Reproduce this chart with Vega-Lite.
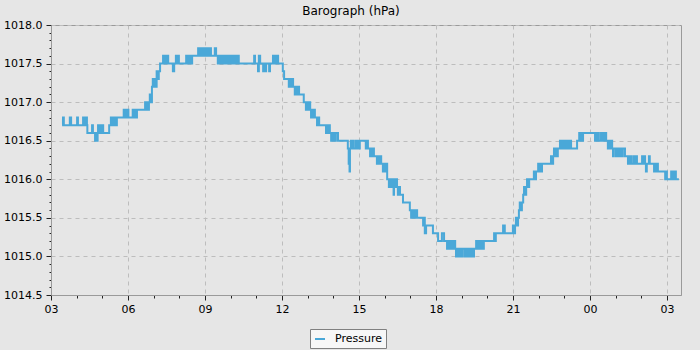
{
  "$schema": "https://vega.github.io/schema/vega-lite/v6.json",
  "width": 630,
  "height": 270,
  "padding": {"left": 3, "top": 5, "right": 20, "bottom": 2},
  "background": "#e6e6e6",
  "title": {"text": "Barograph (hPa)", "font": "DejaVu Sans", "fontSize": 12, "fontWeight": "normal", "color": "#000000", "anchor": "middle", "dx": -15, "offset": 1},
  "config": {
    "font": "DejaVu Sans",
    "view": {"fill": "#e6e6e6", "stroke": "#9a9a9a", "strokeWidth": 1}
  },
  "data": {"format": {"parse": {"t": "utc:'%Y-%m-%dT%H:%M'"}}, "values": [
    {"t": "2024-05-01T03:26", "p": 1016.7},
    {"t": "2024-05-01T03:28", "p": 1016.8},
    {"t": "2024-05-01T03:30", "p": 1016.7},
    {"t": "2024-05-01T03:44", "p": 1016.8},
    {"t": "2024-05-01T03:47", "p": 1016.7},
    {"t": "2024-05-01T04:01", "p": 1016.8},
    {"t": "2024-05-01T04:03", "p": 1016.7},
    {"t": "2024-05-01T04:15", "p": 1016.8},
    {"t": "2024-05-01T04:17", "p": 1016.7},
    {"t": "2024-05-01T04:20", "p": 1016.8},
    {"t": "2024-05-01T04:22", "p": 1016.7},
    {"t": "2024-05-01T04:23", "p": 1016.8},
    {"t": "2024-05-01T04:24", "p": 1016.7},
    {"t": "2024-05-01T04:25", "p": 1016.6},
    {"t": "2024-05-01T04:36", "p": 1016.7},
    {"t": "2024-05-01T04:38", "p": 1016.6},
    {"t": "2024-05-01T04:43", "p": 1016.5},
    {"t": "2024-05-01T04:45", "p": 1016.6},
    {"t": "2024-05-01T04:46", "p": 1016.5},
    {"t": "2024-05-01T04:49", "p": 1016.6},
    {"t": "2024-05-01T04:50", "p": 1016.7},
    {"t": "2024-05-01T04:52", "p": 1016.6},
    {"t": "2024-05-01T04:55", "p": 1016.7},
    {"t": "2024-05-01T04:57", "p": 1016.6},
    {"t": "2024-05-01T04:59", "p": 1016.7},
    {"t": "2024-05-01T05:02", "p": 1016.6},
    {"t": "2024-05-01T05:16", "p": 1016.7},
    {"t": "2024-05-01T05:20", "p": 1016.8},
    {"t": "2024-05-01T05:23", "p": 1016.7},
    {"t": "2024-05-01T05:25", "p": 1016.8},
    {"t": "2024-05-01T05:27", "p": 1016.7},
    {"t": "2024-05-01T05:30", "p": 1016.8},
    {"t": "2024-05-01T05:32", "p": 1016.7},
    {"t": "2024-05-01T05:34", "p": 1016.8},
    {"t": "2024-05-01T05:50", "p": 1016.9},
    {"t": "2024-05-01T05:52", "p": 1016.8},
    {"t": "2024-05-01T05:54", "p": 1016.9},
    {"t": "2024-05-01T05:57", "p": 1016.8},
    {"t": "2024-05-01T05:59", "p": 1016.9},
    {"t": "2024-05-01T06:01", "p": 1016.8},
    {"t": "2024-05-01T06:11", "p": 1016.9},
    {"t": "2024-05-01T06:13", "p": 1016.8},
    {"t": "2024-05-01T06:16", "p": 1016.9},
    {"t": "2024-05-01T06:19", "p": 1016.8},
    {"t": "2024-05-01T06:21", "p": 1016.9},
    {"t": "2024-05-01T06:40", "p": 1017.0},
    {"t": "2024-05-01T06:42", "p": 1016.9},
    {"t": "2024-05-01T06:44", "p": 1017.0},
    {"t": "2024-05-01T06:47", "p": 1016.9},
    {"t": "2024-05-01T06:49", "p": 1017.0},
    {"t": "2024-05-01T06:51", "p": 1017.1},
    {"t": "2024-05-01T06:54", "p": 1017.0},
    {"t": "2024-05-01T06:56", "p": 1017.2},
    {"t": "2024-05-01T06:58", "p": 1017.3},
    {"t": "2024-05-01T07:01", "p": 1017.2},
    {"t": "2024-05-01T07:03", "p": 1017.3},
    {"t": "2024-05-01T07:05", "p": 1017.2},
    {"t": "2024-05-01T07:07", "p": 1017.4},
    {"t": "2024-05-01T07:10", "p": 1017.3},
    {"t": "2024-05-01T07:12", "p": 1017.4},
    {"t": "2024-05-01T07:15", "p": 1017.5},
    {"t": "2024-05-01T07:22", "p": 1017.6},
    {"t": "2024-05-01T07:24", "p": 1017.5},
    {"t": "2024-05-01T07:27", "p": 1017.6},
    {"t": "2024-05-01T07:29", "p": 1017.5},
    {"t": "2024-05-01T07:31", "p": 1017.6},
    {"t": "2024-05-01T07:34", "p": 1017.5},
    {"t": "2024-05-01T07:45", "p": 1017.4},
    {"t": "2024-05-01T07:48", "p": 1017.5},
    {"t": "2024-05-01T07:52", "p": 1017.6},
    {"t": "2024-05-01T07:55", "p": 1017.5},
    {"t": "2024-05-01T07:57", "p": 1017.6},
    {"t": "2024-05-01T07:59", "p": 1017.5},
    {"t": "2024-05-01T08:16", "p": 1017.6},
    {"t": "2024-05-01T08:18", "p": 1017.5},
    {"t": "2024-05-01T08:20", "p": 1017.6},
    {"t": "2024-05-01T08:23", "p": 1017.5},
    {"t": "2024-05-01T08:25", "p": 1017.6},
    {"t": "2024-05-01T08:27", "p": 1017.5},
    {"t": "2024-05-01T08:30", "p": 1017.6},
    {"t": "2024-05-01T08:44", "p": 1017.7},
    {"t": "2024-05-01T08:46", "p": 1017.6},
    {"t": "2024-05-01T08:48", "p": 1017.7},
    {"t": "2024-05-01T08:51", "p": 1017.6},
    {"t": "2024-05-01T08:53", "p": 1017.7},
    {"t": "2024-05-01T08:55", "p": 1017.6},
    {"t": "2024-05-01T08:58", "p": 1017.7},
    {"t": "2024-05-01T09:00", "p": 1017.6},
    {"t": "2024-05-01T09:02", "p": 1017.7},
    {"t": "2024-05-01T09:05", "p": 1017.6},
    {"t": "2024-05-01T09:07", "p": 1017.7},
    {"t": "2024-05-01T09:09", "p": 1017.6},
    {"t": "2024-05-01T09:12", "p": 1017.7},
    {"t": "2024-05-01T09:14", "p": 1017.6},
    {"t": "2024-05-01T09:23", "p": 1017.7},
    {"t": "2024-05-01T09:26", "p": 1017.6},
    {"t": "2024-05-01T09:30", "p": 1017.5},
    {"t": "2024-05-01T09:33", "p": 1017.6},
    {"t": "2024-05-01T09:35", "p": 1017.5},
    {"t": "2024-05-01T09:37", "p": 1017.6},
    {"t": "2024-05-01T09:40", "p": 1017.5},
    {"t": "2024-05-01T09:44", "p": 1017.6},
    {"t": "2024-05-01T09:47", "p": 1017.5},
    {"t": "2024-05-01T09:51", "p": 1017.6},
    {"t": "2024-05-01T09:54", "p": 1017.5},
    {"t": "2024-05-01T09:58", "p": 1017.6},
    {"t": "2024-05-01T10:01", "p": 1017.5},
    {"t": "2024-05-01T10:05", "p": 1017.6},
    {"t": "2024-05-01T10:08", "p": 1017.5},
    {"t": "2024-05-01T10:12", "p": 1017.6},
    {"t": "2024-05-01T10:15", "p": 1017.5},
    {"t": "2024-05-01T10:17", "p": 1017.6},
    {"t": "2024-05-01T10:19", "p": 1017.5},
    {"t": "2024-05-01T10:55", "p": 1017.6},
    {"t": "2024-05-01T10:57", "p": 1017.5},
    {"t": "2024-05-01T11:04", "p": 1017.4},
    {"t": "2024-05-01T11:06", "p": 1017.6},
    {"t": "2024-05-01T11:09", "p": 1017.5},
    {"t": "2024-05-01T11:16", "p": 1017.4},
    {"t": "2024-05-01T11:18", "p": 1017.5},
    {"t": "2024-05-01T11:20", "p": 1017.4},
    {"t": "2024-05-01T11:23", "p": 1017.5},
    {"t": "2024-05-01T11:30", "p": 1017.4},
    {"t": "2024-05-01T11:32", "p": 1017.5},
    {"t": "2024-05-01T11:39", "p": 1017.6},
    {"t": "2024-05-01T11:41", "p": 1017.5},
    {"t": "2024-05-01T11:44", "p": 1017.6},
    {"t": "2024-05-01T11:46", "p": 1017.5},
    {"t": "2024-05-01T11:48", "p": 1017.6},
    {"t": "2024-05-01T11:51", "p": 1017.5},
    {"t": "2024-05-01T12:02", "p": 1017.4},
    {"t": "2024-05-01T12:05", "p": 1017.3},
    {"t": "2024-05-01T12:16", "p": 1017.2},
    {"t": "2024-05-01T12:19", "p": 1017.3},
    {"t": "2024-05-01T12:21", "p": 1017.2},
    {"t": "2024-05-01T12:23", "p": 1017.3},
    {"t": "2024-05-01T12:26", "p": 1017.2},
    {"t": "2024-05-01T12:30", "p": 1017.1},
    {"t": "2024-05-01T12:33", "p": 1017.2},
    {"t": "2024-05-01T12:35", "p": 1017.1},
    {"t": "2024-05-01T12:37", "p": 1017.2},
    {"t": "2024-05-01T12:40", "p": 1017.1},
    {"t": "2024-05-01T12:51", "p": 1017.0},
    {"t": "2024-05-01T12:56", "p": 1016.9},
    {"t": "2024-05-01T12:59", "p": 1017.0},
    {"t": "2024-05-01T13:01", "p": 1016.9},
    {"t": "2024-05-01T13:03", "p": 1017.0},
    {"t": "2024-05-01T13:06", "p": 1016.9},
    {"t": "2024-05-01T13:08", "p": 1016.8},
    {"t": "2024-05-01T13:10", "p": 1016.9},
    {"t": "2024-05-01T13:13", "p": 1016.8},
    {"t": "2024-05-01T13:15", "p": 1016.9},
    {"t": "2024-05-01T13:17", "p": 1016.8},
    {"t": "2024-05-01T13:22", "p": 1016.7},
    {"t": "2024-05-01T13:24", "p": 1016.8},
    {"t": "2024-05-01T13:27", "p": 1016.7},
    {"t": "2024-05-01T13:43", "p": 1016.6},
    {"t": "2024-05-01T13:45", "p": 1016.7},
    {"t": "2024-05-01T13:48", "p": 1016.6},
    {"t": "2024-05-01T13:50", "p": 1016.7},
    {"t": "2024-05-01T13:52", "p": 1016.6},
    {"t": "2024-05-01T13:55", "p": 1016.5},
    {"t": "2024-05-01T13:57", "p": 1016.6},
    {"t": "2024-05-01T13:59", "p": 1016.5},
    {"t": "2024-05-01T14:02", "p": 1016.6},
    {"t": "2024-05-01T14:04", "p": 1016.5},
    {"t": "2024-05-01T14:06", "p": 1016.6},
    {"t": "2024-05-01T14:11", "p": 1016.5},
    {"t": "2024-05-01T14:34", "p": 1016.4},
    {"t": "2024-05-01T14:36", "p": 1016.2},
    {"t": "2024-05-01T14:38", "p": 1016.1},
    {"t": "2024-05-01T14:39", "p": 1016.4},
    {"t": "2024-05-01T14:41", "p": 1016.5},
    {"t": "2024-05-01T14:44", "p": 1016.4},
    {"t": "2024-05-01T14:46", "p": 1016.5},
    {"t": "2024-05-01T14:48", "p": 1016.4},
    {"t": "2024-05-01T14:53", "p": 1016.5},
    {"t": "2024-05-01T14:55", "p": 1016.4},
    {"t": "2024-05-01T14:58", "p": 1016.5},
    {"t": "2024-05-01T15:00", "p": 1016.4},
    {"t": "2024-05-01T15:02", "p": 1016.5},
    {"t": "2024-05-01T15:16", "p": 1016.4},
    {"t": "2024-05-01T15:19", "p": 1016.5},
    {"t": "2024-05-01T15:21", "p": 1016.4},
    {"t": "2024-05-01T15:26", "p": 1016.3},
    {"t": "2024-05-01T15:28", "p": 1016.4},
    {"t": "2024-05-01T15:30", "p": 1016.3},
    {"t": "2024-05-01T15:33", "p": 1016.4},
    {"t": "2024-05-01T15:35", "p": 1016.3},
    {"t": "2024-05-01T15:42", "p": 1016.2},
    {"t": "2024-05-01T15:45", "p": 1016.3},
    {"t": "2024-05-01T15:47", "p": 1016.2},
    {"t": "2024-05-01T15:49", "p": 1016.3},
    {"t": "2024-05-01T15:52", "p": 1016.2},
    {"t": "2024-05-01T15:56", "p": 1016.1},
    {"t": "2024-05-01T15:59", "p": 1016.2},
    {"t": "2024-05-01T16:01", "p": 1016.1},
    {"t": "2024-05-01T16:03", "p": 1016.2},
    {"t": "2024-05-01T16:06", "p": 1016.0},
    {"t": "2024-05-01T16:10", "p": 1015.9},
    {"t": "2024-05-01T16:13", "p": 1016.0},
    {"t": "2024-05-01T16:15", "p": 1015.9},
    {"t": "2024-05-01T16:17", "p": 1016.0},
    {"t": "2024-05-01T16:21", "p": 1015.8},
    {"t": "2024-05-01T16:22", "p": 1016.0},
    {"t": "2024-05-01T16:24", "p": 1015.9},
    {"t": "2024-05-01T16:27", "p": 1016.0},
    {"t": "2024-05-01T16:29", "p": 1015.9},
    {"t": "2024-05-01T16:31", "p": 1015.8},
    {"t": "2024-05-01T16:34", "p": 1015.9},
    {"t": "2024-05-01T16:36", "p": 1015.8},
    {"t": "2024-05-01T16:43", "p": 1015.7},
    {"t": "2024-05-01T16:59", "p": 1015.6},
    {"t": "2024-05-01T17:02", "p": 1015.5},
    {"t": "2024-05-01T17:04", "p": 1015.6},
    {"t": "2024-05-01T17:06", "p": 1015.5},
    {"t": "2024-05-01T17:09", "p": 1015.6},
    {"t": "2024-05-01T17:11", "p": 1015.5},
    {"t": "2024-05-01T17:13", "p": 1015.6},
    {"t": "2024-05-01T17:16", "p": 1015.5},
    {"t": "2024-05-01T17:30", "p": 1015.4},
    {"t": "2024-05-01T17:32", "p": 1015.5},
    {"t": "2024-05-01T17:34", "p": 1015.3},
    {"t": "2024-05-01T17:37", "p": 1015.4},
    {"t": "2024-05-01T17:53", "p": 1015.3},
    {"t": "2024-05-01T18:05", "p": 1015.2},
    {"t": "2024-05-01T18:14", "p": 1015.3},
    {"t": "2024-05-01T18:19", "p": 1015.2},
    {"t": "2024-05-01T18:26", "p": 1015.1},
    {"t": "2024-05-01T18:28", "p": 1015.2},
    {"t": "2024-05-01T18:31", "p": 1015.1},
    {"t": "2024-05-01T18:33", "p": 1015.2},
    {"t": "2024-05-01T18:35", "p": 1015.1},
    {"t": "2024-05-01T18:38", "p": 1015.2},
    {"t": "2024-05-01T18:40", "p": 1015.1},
    {"t": "2024-05-01T18:42", "p": 1015.2},
    {"t": "2024-05-01T18:45", "p": 1015.1},
    {"t": "2024-05-01T18:47", "p": 1015.0},
    {"t": "2024-05-01T18:49", "p": 1015.1},
    {"t": "2024-05-01T18:52", "p": 1015.0},
    {"t": "2024-05-01T18:54", "p": 1015.1},
    {"t": "2024-05-01T18:56", "p": 1015.0},
    {"t": "2024-05-01T18:59", "p": 1015.1},
    {"t": "2024-05-01T19:01", "p": 1015.0},
    {"t": "2024-05-01T19:03", "p": 1015.1},
    {"t": "2024-05-01T19:08", "p": 1015.0},
    {"t": "2024-05-01T19:10", "p": 1015.1},
    {"t": "2024-05-01T19:13", "p": 1015.0},
    {"t": "2024-05-01T19:15", "p": 1015.1},
    {"t": "2024-05-01T19:17", "p": 1015.0},
    {"t": "2024-05-01T19:20", "p": 1015.1},
    {"t": "2024-05-01T19:22", "p": 1015.0},
    {"t": "2024-05-01T19:24", "p": 1015.1},
    {"t": "2024-05-01T19:27", "p": 1015.0},
    {"t": "2024-05-01T19:29", "p": 1015.1},
    {"t": "2024-05-01T19:34", "p": 1015.2},
    {"t": "2024-05-01T19:36", "p": 1015.1},
    {"t": "2024-05-01T19:38", "p": 1015.2},
    {"t": "2024-05-01T19:41", "p": 1015.1},
    {"t": "2024-05-01T19:43", "p": 1015.2},
    {"t": "2024-05-01T19:45", "p": 1015.1},
    {"t": "2024-05-01T19:48", "p": 1015.2},
    {"t": "2024-05-01T19:50", "p": 1015.1},
    {"t": "2024-05-01T19:52", "p": 1015.2},
    {"t": "2024-05-01T20:16", "p": 1015.3},
    {"t": "2024-05-01T20:18", "p": 1015.2},
    {"t": "2024-05-01T20:20", "p": 1015.3},
    {"t": "2024-05-01T20:37", "p": 1015.4},
    {"t": "2024-05-01T20:41", "p": 1015.3},
    {"t": "2024-05-01T21:00", "p": 1015.4},
    {"t": "2024-05-01T21:03", "p": 1015.3},
    {"t": "2024-05-01T21:05", "p": 1015.4},
    {"t": "2024-05-01T21:07", "p": 1015.5},
    {"t": "2024-05-01T21:10", "p": 1015.4},
    {"t": "2024-05-01T21:12", "p": 1015.5},
    {"t": "2024-05-01T21:14", "p": 1015.6},
    {"t": "2024-05-01T21:16", "p": 1015.7},
    {"t": "2024-05-01T21:19", "p": 1015.6},
    {"t": "2024-05-01T21:21", "p": 1015.7},
    {"t": "2024-05-01T21:24", "p": 1015.8},
    {"t": "2024-05-01T21:26", "p": 1015.9},
    {"t": "2024-05-01T21:28", "p": 1015.8},
    {"t": "2024-05-01T21:31", "p": 1015.9},
    {"t": "2024-05-01T21:33", "p": 1016.0},
    {"t": "2024-05-01T21:35", "p": 1015.9},
    {"t": "2024-05-01T21:38", "p": 1016.0},
    {"t": "2024-05-01T21:49", "p": 1016.1},
    {"t": "2024-05-01T21:52", "p": 1016.0},
    {"t": "2024-05-01T21:54", "p": 1016.1},
    {"t": "2024-05-01T21:59", "p": 1016.2},
    {"t": "2024-05-01T22:01", "p": 1016.1},
    {"t": "2024-05-01T22:03", "p": 1016.2},
    {"t": "2024-05-01T22:06", "p": 1016.1},
    {"t": "2024-05-01T22:08", "p": 1016.2},
    {"t": "2024-05-01T22:29", "p": 1016.3},
    {"t": "2024-05-01T22:31", "p": 1016.2},
    {"t": "2024-05-01T22:34", "p": 1016.3},
    {"t": "2024-05-01T22:36", "p": 1016.4},
    {"t": "2024-05-01T22:38", "p": 1016.3},
    {"t": "2024-05-01T22:41", "p": 1016.4},
    {"t": "2024-05-01T22:43", "p": 1016.3},
    {"t": "2024-05-01T22:45", "p": 1016.4},
    {"t": "2024-05-01T22:50", "p": 1016.5},
    {"t": "2024-05-01T22:52", "p": 1016.4},
    {"t": "2024-05-01T22:55", "p": 1016.5},
    {"t": "2024-05-01T22:57", "p": 1016.4},
    {"t": "2024-05-01T22:59", "p": 1016.5},
    {"t": "2024-05-01T23:02", "p": 1016.4},
    {"t": "2024-05-01T23:04", "p": 1016.5},
    {"t": "2024-05-01T23:06", "p": 1016.4},
    {"t": "2024-05-01T23:09", "p": 1016.5},
    {"t": "2024-05-01T23:11", "p": 1016.4},
    {"t": "2024-05-01T23:13", "p": 1016.5},
    {"t": "2024-05-01T23:16", "p": 1016.4},
    {"t": "2024-05-01T23:30", "p": 1016.5},
    {"t": "2024-05-01T23:35", "p": 1016.6},
    {"t": "2024-05-01T23:37", "p": 1016.5},
    {"t": "2024-05-01T23:39", "p": 1016.6},
    {"t": "2024-05-01T23:41", "p": 1016.5},
    {"t": "2024-05-01T23:44", "p": 1016.6},
    {"t": "2024-05-02T00:12", "p": 1016.5},
    {"t": "2024-05-02T00:14", "p": 1016.6},
    {"t": "2024-05-02T00:17", "p": 1016.5},
    {"t": "2024-05-02T00:19", "p": 1016.6},
    {"t": "2024-05-02T00:21", "p": 1016.5},
    {"t": "2024-05-02T00:26", "p": 1016.6},
    {"t": "2024-05-02T00:28", "p": 1016.5},
    {"t": "2024-05-02T00:31", "p": 1016.6},
    {"t": "2024-05-02T00:33", "p": 1016.5},
    {"t": "2024-05-02T00:35", "p": 1016.6},
    {"t": "2024-05-02T00:38", "p": 1016.5},
    {"t": "2024-05-02T00:42", "p": 1016.4},
    {"t": "2024-05-02T00:45", "p": 1016.5},
    {"t": "2024-05-02T00:47", "p": 1016.4},
    {"t": "2024-05-02T00:49", "p": 1016.5},
    {"t": "2024-05-02T00:52", "p": 1016.4},
    {"t": "2024-05-02T00:54", "p": 1016.3},
    {"t": "2024-05-02T00:56", "p": 1016.4},
    {"t": "2024-05-02T01:01", "p": 1016.3},
    {"t": "2024-05-02T01:03", "p": 1016.4},
    {"t": "2024-05-02T01:06", "p": 1016.3},
    {"t": "2024-05-02T01:08", "p": 1016.4},
    {"t": "2024-05-02T01:10", "p": 1016.3},
    {"t": "2024-05-02T01:13", "p": 1016.4},
    {"t": "2024-05-02T01:15", "p": 1016.3},
    {"t": "2024-05-02T01:17", "p": 1016.4},
    {"t": "2024-05-02T01:22", "p": 1016.3},
    {"t": "2024-05-02T01:29", "p": 1016.2},
    {"t": "2024-05-02T01:31", "p": 1016.3},
    {"t": "2024-05-02T01:34", "p": 1016.2},
    {"t": "2024-05-02T01:36", "p": 1016.3},
    {"t": "2024-05-02T01:38", "p": 1016.2},
    {"t": "2024-05-02T01:43", "p": 1016.3},
    {"t": "2024-05-02T01:45", "p": 1016.2},
    {"t": "2024-05-02T01:48", "p": 1016.3},
    {"t": "2024-05-02T01:50", "p": 1016.2},
    {"t": "2024-05-02T02:02", "p": 1016.3},
    {"t": "2024-05-02T02:04", "p": 1016.2},
    {"t": "2024-05-02T02:06", "p": 1016.3},
    {"t": "2024-05-02T02:09", "p": 1016.2},
    {"t": "2024-05-02T02:11", "p": 1016.1},
    {"t": "2024-05-02T02:13", "p": 1016.2},
    {"t": "2024-05-02T02:18", "p": 1016.3},
    {"t": "2024-05-02T02:20", "p": 1016.2},
    {"t": "2024-05-02T02:30", "p": 1016.1},
    {"t": "2024-05-02T02:32", "p": 1016.2},
    {"t": "2024-05-02T02:34", "p": 1016.1},
    {"t": "2024-05-02T02:37", "p": 1016.2},
    {"t": "2024-05-02T02:39", "p": 1016.1},
    {"t": "2024-05-02T02:56", "p": 1016.0},
    {"t": "2024-05-02T02:58", "p": 1016.1},
    {"t": "2024-05-02T03:00", "p": 1016.0},
    {"t": "2024-05-02T03:10", "p": 1016.1},
    {"t": "2024-05-02T03:12", "p": 1016.0},
    {"t": "2024-05-02T03:14", "p": 1016.1},
    {"t": "2024-05-02T03:17", "p": 1016.0},
    {"t": "2024-05-02T03:19", "p": 1016.1},
    {"t": "2024-05-02T03:21", "p": 1016.0},
    {"t": "2024-05-02T03:28", "p": 1016.0}
  ]},
  "mark": {"type": "line", "interpolate": "step-after", "strokeWidth": 2, "clip": true},
  "encoding": {
    "x": {
      "field": "t", "type": "temporal", "title": null,
      "scale": {"type": "utc", "domain": [1714532400000, 1714620780000], "nice": false},
      "axis": {
        "values": [1714532400000, 1714536000000, 1714539600000, 1714543200000, 1714546800000, 1714550400000, 1714554000000, 1714557600000, 1714561200000, 1714564800000, 1714568400000, 1714572000000, 1714575600000, 1714579200000, 1714582800000, 1714586400000, 1714590000000, 1714593600000, 1714597200000, 1714600800000, 1714604400000, 1714608000000, 1714611600000, 1714615200000, 1714618800000],
        "labelExpr": "utchours(datum.value) % 3 == 0 ? utcFormat(datum.value, '%H') : ''",
        "labelOverlap": false, "labelFlush": false,
        "labelFont": "DejaVu Sans", "labelFontSize": 11, "labelColor": "#000000", "labelPadding": 3,
        "domainColor": "#9a9a9a", "domainWidth": 1,
        "tickColor": "#222222", "tickWidth": 1,
        "tickSize": {"condition": {"test": "utchours(datum.value) % 3 == 0", "value": 5}, "value": 3},
        "grid": true, "gridColor": "#bdbdbd", "gridDash": [4, 4], "gridWidth": 1,
        "gridOpacity": {"condition": {"test": "utchours(datum.value) % 3 == 0", "value": 1}, "value": 0}
      }
    },
    "y": {
      "field": "p", "type": "quantitative", "title": null,
      "scale": {"domain": [1014.5, 1018.0], "zero": false, "nice": false},
      "axis": {
        "values": [1014.5, 1014.6, 1014.7, 1014.8, 1014.9, 1015.0, 1015.1, 1015.2, 1015.3, 1015.4, 1015.5, 1015.6, 1015.7, 1015.8, 1015.9, 1016.0, 1016.1, 1016.2, 1016.3, 1016.4, 1016.5, 1016.6, 1016.7, 1016.8, 1016.9, 1017.0, 1017.1, 1017.2, 1017.3, 1017.4, 1017.5, 1017.6, 1017.7, 1017.8, 1017.9, 1018.0],
        "labelExpr": "round(datum.value * 10) % 5 == 0 ? format(datum.value, '.1f') : ''",
        "labelOverlap": false, "labelFlush": false,
        "labelFont": "DejaVu Sans", "labelFontSize": 11, "labelColor": "#000000", "labelPadding": 4,
        "domainColor": "#9a9a9a", "domainWidth": 1,
        "tickColor": "#222222", "tickWidth": 1,
        "tickSize": {"condition": {"test": "round(datum.value * 10) % 5 == 0", "value": 5}, "value": 2},
        "grid": true, "gridColor": "#bdbdbd", "gridDash": [4, 4], "gridWidth": 1,
        "gridOpacity": {"condition": {"test": "round(datum.value * 10) % 5 == 0", "value": 1}, "value": 0}
      }
    },
    "color": {
      "datum": "Pressure", "type": "nominal",
      "scale": {"range": ["#4aa8d8"]},
      "legend": {
        "title": null, "orient": "none", "legendX": 259, "legendY": 304,
        "symbolType": "stroke", "symbolSize": 100, "symbolStrokeWidth": 2,
        "labelFont": "DejaVu Sans", "labelFontSize": 11, "labelColor": "#000000", "labelOffset": 9,
        "padding": 4, "fillColor": "#f7f7f7", "strokeColor": "#808080", "cornerRadius": 0
      }
    }
  }
}
